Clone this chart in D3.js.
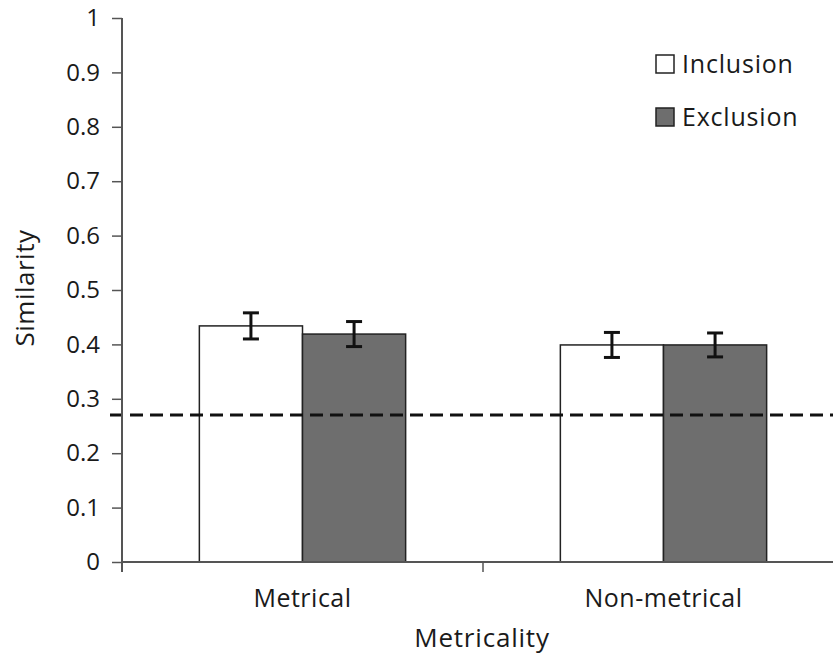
<!DOCTYPE html>
<html>
<head>
<meta charset="utf-8">
<script src="https://cdn.jsdelivr.net/npm/d3@7"></script>
<style>
  body { margin: 0; background: #fff; }
  svg text { font-family: "Open Sans", "Noto Sans", sans-serif; fill: #1a1a1a; }
</style>
</head>
<body>
<div id="chart"></div>
<script>
// data
const categories = ["Metrical", "Non-metrical"];
const seriesNames = ["Inclusion", "Exclusion"];
const seriesColors = ["#ffffff", "#6e6e6e"];
const inclusion = [0.434, 0.399];
const exclusion = [0.419, 0.399];
const inclusionErr = [0.024, 0.023];
const exclusionErr = [0.023, 0.022];
const chanceLevel = 0.27;
const yTicks = [0, 0.1, 0.2, 0.3, 0.4, 0.5, 0.6, 0.7, 0.8, 0.9, 1];

const width = 833, height = 657;
const margin = { left: 122, right: -11, top: 18, bottom: 95 };

const svg = d3.select("#chart").append("svg")
  .attr("width", width)
  .attr("height", height);

const x = d3.scaleBand()
  .domain(categories)
  .range([margin.left, width - margin.right]);

const xInner = d3.scaleBand()
  .domain(seriesNames)
  .range([0, x.bandwidth()])
  .paddingOuter(0.75);

const y = d3.scaleLinear()
  .domain([0, 1])
  .range([height - margin.bottom, margin.top]);

const rows = categories.map((c, i) => ({
  cat: c,
  vals: [
    { s: "Inclusion", v: inclusion[i], e: inclusionErr[i] },
    { s: "Exclusion", v: exclusion[i], e: exclusionErr[i] }
  ]
}));

// bars
const groups = svg.append("g").selectAll("g")
  .data(rows)
  .enter()
  .append("g")
  .attr("transform", d => `translate(${x(d.cat)},0)`);

groups.selectAll("rect")
  .data(d => d.vals)
  .enter()
  .append("rect")
  .attr("x", d => xInner(d.s))
  .attr("y", d => y(d.v))
  .attr("width", xInner.bandwidth())
  .attr("height", d => y(0) - y(d.v))
  .attr("fill", (d, i) => seriesColors[i])
  .attr("stroke", "#222")
  .attr("stroke-width", 1.5);

// error bars
const err = groups.selectAll("g.err")
  .data(d => d.vals)
  .enter()
  .append("g")
  .attr("class", "err")
  .attr("stroke", "#111")
  .attr("stroke-width", 3);

err.append("line")
  .attr("x1", d => xInner(d.s) + xInner.bandwidth() / 2)
  .attr("x2", d => xInner(d.s) + xInner.bandwidth() / 2)
  .attr("y1", d => y(d.v + d.e))
  .attr("y2", d => y(d.v - d.e));

[1, -1].forEach(sign => {
  err.append("line")
    .attr("x1", d => xInner(d.s) + xInner.bandwidth() / 2 - 8)
    .attr("x2", d => xInner(d.s) + xInner.bandwidth() / 2 + 8)
    .attr("y1", d => y(d.v + sign * d.e))
    .attr("y2", d => y(d.v + sign * d.e));
});

// chance level
svg.append("line")
  .attr("x1", 110)
  .attr("x2", width)
  .attr("y1", y(chanceLevel))
  .attr("y2", y(chanceLevel))
  .attr("stroke", "#111")
  .attr("stroke-width", 3)
  .attr("stroke-dasharray", "13,7");

// y axis
const yAxis = svg.append("g")
  .attr("transform", `translate(${margin.left},0)`)
  .call(d3.axisLeft(y).tickValues(yTicks).tickFormat(d3.format("")).tickSize(10).tickPadding(12));
yAxis.select(".domain").attr("stroke", "#555").attr("stroke-width", 2)
  .attr("d", `M0,${y(1)}V${y(0) + 10}`);
yAxis.selectAll(".tick line").attr("stroke", "#555").attr("stroke-width", 1.5);
yAxis.selectAll(".tick text").style("font-size", "24px").attr("fill", "#1a1a1a");

// x axis
const xAxisG = svg.append("g")
  .attr("transform", `translate(0,${y(0)})`);
xAxisG.append("line")
  .attr("x1", margin.left).attr("x2", width)
  .attr("stroke", "#555").attr("stroke-width", 2);
xAxisG.selectAll("line.tk")
  .data(categories.slice(1))
  .enter()
  .append("line")
  .attr("class", "tk")
  .attr("x1", d => x(d)).attr("x2", d => x(d))
  .attr("y1", 0).attr("y2", 10)
  .attr("stroke", "#555").attr("stroke-width", 1.5);
xAxisG.selectAll("text")
  .data(categories)
  .enter()
  .append("text")
  .attr("x", d => x(d) + x.bandwidth() / 2)
  .attr("y", 45)
  .attr("text-anchor", "middle")
  .style("font-size", "25px")
  .style("letter-spacing", "0.5px")
  .text(d => d);

// axis titles
svg.append("text")
  .attr("x", 482)
  .attr("y", 647)
  .attr("text-anchor", "middle")
  .style("font-size", "26px")
  .style("letter-spacing", "0.8px")
  .text("Metricality");

svg.append("text")
  .attr("transform", "translate(34,288) rotate(-90)")
  .attr("text-anchor", "middle")
  .style("font-size", "26px")
  .style("letter-spacing", "0.5px")
  .text("Similarity");

// legend
const legend = svg.append("g").selectAll("g")
  .data(seriesNames)
  .enter()
  .append("g")
  .attr("transform", (d, i) => `translate(656,${55 + i * 53})`);
legend.append("rect")
  .attr("width", 18).attr("height", 18)
  .attr("fill", (d, i) => seriesColors[i])
  .attr("stroke", "#222").attr("stroke-width", 1.5);
legend.append("text")
  .attr("x", 26).attr("y", 18)
  .style("font-size", "25px")
  .style("letter-spacing", "0.8px")
  .text(d => d);
</script>
</body>
</html>
